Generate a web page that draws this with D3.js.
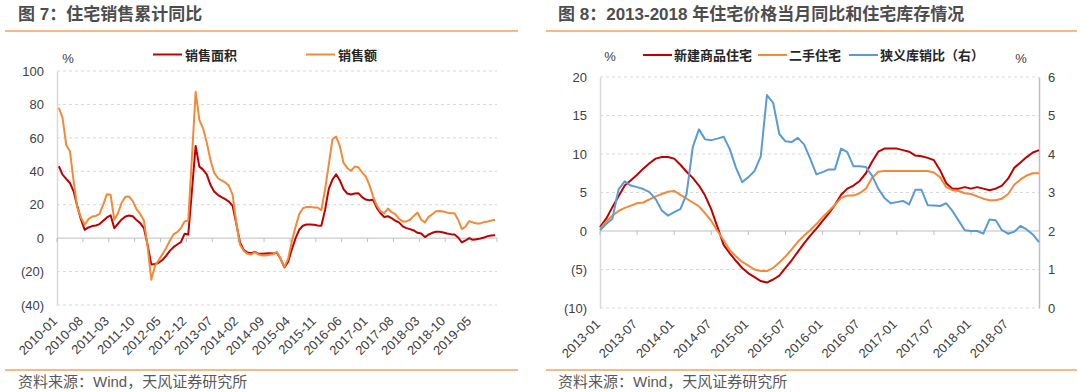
<!DOCTYPE html>
<html>
<head>
<meta charset="utf-8">
<script src="https://cdn.jsdelivr.net/npm/d3@7"></script>
<style>
  body { margin: 0; background: #fff; }
  svg { display: block; font-family: "Liberation Sans", Arial, sans-serif; }
  .cn { font-family: "Liberation Sans", "Noto Sans CJK SC", sans-serif; }
</style>
</head>
<body>
<svg id="chart" width="1080" height="392"></svg>
<script>
// ---- data ----

// 图7: 住宅销售累计同比, monthly 2010-01 .. 2019-11, %
var salesArea = [43, 38, 35.5, 33, 28, 19, 11, 5, 6.4, 7.2,
    7.6, 8.4, 10.4, 12.4, 13.7, 6, 8.6, 11.2, 12.9, 13.5,
    13.1, 10.8, 9, 6, -4, -15.7, -15.5, -14.7, -13.1, -10.6,
    -7.6, -5.4, -3.8, -2.4, 2.6, 2.2, 28.5, 55.2, 42.8, 41,
    38.2, 31.9, 27.9, 25.9, 24.5, 23.3, 21.9, 19.3, 8.4, -2.6,
    -7, -8.6, -9, -8.2, -9.4, -9.4, -9.2, -9, -9.2, -8.8,
    -12.5, -17.5, -14.3, -6.8, -0.2, 5, 7.4, 8.2, 8.2, 8,
    7.6, 7.4, 16.9, 29.5, 35, 38.2, 34.5, 29.3, 26.7, 26.1,
    26.7, 26.9, 24.5, 23.1, 22.7, 22.9, 18.1, 14.9, 12.7, 13.1,
    12, 10.4, 9.4, 7, 6, 5.4, 4.6, 3.2, 2.8, 0.6,
    2.2, 3.2, 3.8, 3.8, 3.4, 2.8, 2.4, 2.2, 0.4, -2.6,
    -1.4, 0, -1, -0.6, -0.2, 0.4, 1.2, 1.6, 1.8];
var salesAmount = [78, 72, 55.6, 52, 34, 18.3, 12.2, 8, 11.4, 12.9,
    13.3, 14.5, 20.1, 26.3, 25.9, 11, 14.9, 21.3, 24.7, 24.9,
    22.1, 17.3, 14.5, 10.6, -5, -24.9, -16.5, -13.3, -9.6, -6,
    -1.6, 2.2, 3.6, 6, 10, 10.6, 48.8, 87.6, 70.7, 65.7,
    57.2, 46.8, 39.2, 36, 34.5, 33.3, 31.3, 25.9, 9, -4,
    -7.6, -9.4, -9.8, -8.4, -9.8, -10.4, -10.4, -10, -9.6, -8.2,
    -12.5, -17.1, -12.4, -2, 6.6, 14.3, 17.9, 18.7, 18.7, 18.3,
    18.3, 16.7, 29.1, 44, 59.2, 60.8, 55, 45, 42, 40.2,
    42.8, 42.4, 39.4, 36.9, 31.7, 24.9, 19.5, 16.1, 14.9, 17.7,
    15.5, 14.3, 11.6, 10, 10, 11, 13.3, 15.3, 11, 9.4,
    12.7, 14.3, 16.1, 16.3, 15.9, 15.3, 14.9, 14.9, 11, 5.4,
    7, 10.2, 9.4, 8.8, 8.8, 9.6, 10, 10.6, 11];

// 图8: monthly 2013-01 .. 2018-12
var newHouse = [0.5, 1.6, 3.1, 4.5, 5.9, 6.6, 7.3, 8.1, 8.8, 9.4,
    9.6, 9.6, 9.4, 8.6, 7.7, 6.9, 5.9, 4.6, 2.8, 0.5,
    -1.8, -2.9, -3.9, -4.8, -5.5, -6, -6.5, -6.7, -6.3, -5.8,
    -4.8, -3.8, -2.7, -1.6, -0.6, 0.3, 1.3, 2.3, 3.4, 4.7,
    5.5, 5.9, 6.5, 7.5, 9, 10.3, 10.7, 10.7, 10.7, 10.5,
    10.3, 9.8, 9.7, 9.5, 9.2, 7.9, 6.2, 5.5, 5.5, 5.7,
    5.5, 5.7, 5.5, 5.3, 5.5, 5.9, 6.8, 8.2, 8.9, 9.6,
    10.2, 10.5];
var secondHand = [0.3, 1.2, 2, 2.6, 3, 3.3, 3.6, 3.7, 4.1, 4.5,
    4.8, 5.1, 5.2, 4.7, 4.2, 3.7, 3.2, 2.3, 1.3, 0,
    -1.2, -2.5, -3.3, -4, -4.5, -5, -5.2, -5.2, -4.8, -4.1,
    -3.3, -2.4, -1.4, -0.6, 0.1, 0.9, 1.8, 2.6, 3.4, 4.3,
    4.6, 4.6, 4.9, 5.5, 6.9, 7.7, 7.8, 7.8, 7.8, 7.8,
    7.8, 7.8, 7.8, 7.8, 7.6, 7, 5.7, 5.3, 5.2, 4.9,
    4.8, 4.5, 4.2, 4, 4, 4.2, 4.8, 6, 6.7, 7.2,
    7.5, 7.5];
// 狭义库销比, right axis
var invRatio = [2.02, 2.18, 2.32, 3.08, 3.29, 3.18, 3.14, 3.09, 3.01, 2.83,
    2.53, 2.4, 2.49, 2.57, 2.96, 4.18, 4.64, 4.38, 4.36, 4.4,
    4.45, 4.12, 3.64, 3.27, 3.4, 3.56, 3.94, 5.53, 5.33, 4.52,
    4.33, 4.31, 4.42, 4.25, 3.88, 3.47, 3.53, 3.6, 3.6, 4.14,
    4.05, 3.68, 3.68, 3.66, 3.44, 3.1, 2.86, 2.72, 2.75, 2.78,
    2.69, 3.07, 3.07, 2.67, 2.66, 2.65, 2.72, 2.52, 2.27, 2.02,
    2.0, 2.0, 1.93, 2.3, 2.28, 2.02, 1.93, 1.98, 2.13, 2.04,
    1.91, 1.71];

var fmtMonth = d3.timeFormat("%Y-%m");
var months1 = d3.timeMonth.range(new Date(2010, 0, 1), new Date(2019, 11, 1)).map(fmtMonth);
var months2 = d3.timeMonth.range(new Date(2013, 0, 1), new Date(2019, 0, 1)).map(fmtMonth);

var xLabels1 = ["2010-01", "2010-08", "2011-03", "2011-10", "2012-05", "2012-12", "2013-07",
    "2014-02", "2014-09", "2015-04", "2015-11", "2016-06", "2017-01", "2017-08",
    "2018-03", "2018-10", "2019-05"];
var xLabels2 = ["2013-01", "2013-07", "2014-01", "2014-07", "2015-01", "2015-07",
    "2016-01", "2016-07", "2017-01", "2017-07", "2018-01", "2018-07"];
var yTicks1 = [100, 80, 60, 40, 20, 0, -20, -40];
var yTicks2 = [20, 15, 10, 5, 0, -5, -10];
var yTicks2r = [6, 5, 4, 3, 2, 1, 0];

var RED = "#c00000", ORANGE = "#f28a3a", BLUE = "#5b9bd5";
var GRID = "#d9d9d9", AXIS = "#bfbfbf", TXT = "#404040", RULE = "#f5a35c";

function fmtNeg(v) { return v < 0 ? "(" + (-v) + ")" : String(v); }

var svg = d3.select("#chart");

// ---- frames: titles, rules, source ----
[{ x: 18, l: 5, r: 518, t: "图 7：住宅销售累计同比" },
 { x: 558, l: 546, r: 1077, t: "图 8：2013-2018 年住宅价格当月同比和住宅库存情况" }].forEach(function (p) {
    svg.append("text").attr("class", "cn")
        .attr("x", p.x).attr("y", 20)
        .style("font-size", "17px").style("font-weight", "700").style("fill", "#4d4d4d")
        .text(p.t);
    svg.append("line").attr("x1", p.l).attr("x2", p.r).attr("y1", 31).attr("y2", 31)
        .attr("stroke", RULE).attr("stroke-width", 1.5);
    svg.append("line").attr("x1", p.l).attr("x2", p.r).attr("y1", 370).attr("y2", 370)
        .attr("stroke", RULE).attr("stroke-width", 1.5);
    svg.append("text").attr("class", "cn")
        .attr("x", p.x).attr("y", 387)
        .style("font-size", "15px").style("fill", "#595959")
        .text("资料来源：Wind，天风证券研究所");
});

// ---- chart 1 ----
var x1 = d3.scaleBand().domain(months1).range([57, 497]);
var y1 = d3.scaleLinear().domain([-40, 100]).range([305, 71]);
var c1 = svg.append("g");

// dashed gridlines
c1.selectAll(".grid1").data(yTicks1.filter(function (d) { return d !== 0; }))
    .enter().append("line")
    .attr("x1", 57).attr("x2", 497)
    .attr("y1", function (d) { return y1(d); }).attr("y2", function (d) { return y1(d); })
    .attr("stroke", GRID).attr("stroke-dasharray", "3,3");

// y axis
var ax1 = c1.append("g").attr("transform", "translate(57,0)")
    .call(d3.axisLeft(y1).tickValues(yTicks1).tickFormat(fmtNeg).tickSize(0).tickPadding(13));
ax1.select(".domain").attr("stroke", GRID).attr("stroke-width", 1.5);
ax1.selectAll("text").style("font-size", "13px").style("fill", TXT)
    .style("font-family", '"Liberation Sans", Arial, sans-serif');

// zero line with ticks at category boundaries
c1.append("line").attr("x1", 57).attr("x2", 497).attr("y1", y1(0)).attr("y2", y1(0))
    .attr("stroke", AXIS).attr("stroke-width", 1);
var tickX1 = xLabels1.map(function (m) { return x1(m); }).concat([497]);
c1.selectAll(".tick1").data(tickX1).enter().append("line")
    .attr("x1", function (d) { return d; }).attr("x2", function (d) { return d; })
    .attr("y1", y1(0)).attr("y2", y1(0) + 4)
    .attr("stroke", AXIS);

c1.selectAll(".xl1").data(xLabels1).enter().append("text")
    .attr("transform", function (d) { return "translate(" + (x1(d) + 1) + ",322) rotate(-45)"; })
    .attr("text-anchor", "end")
    .style("font-size", "13px").style("fill", TXT)
    .text(function (d) { return d; });

var line1 = d3.line()
    .x(function (d, i) { return x1(months1[i]) + x1.bandwidth() / 2; })
    .y(function (d) { return y1(d); });

c1.append("path").datum(salesArea).attr("d", line1)
    .attr("fill", "none").attr("stroke", RED).attr("stroke-width", 2).attr("stroke-linejoin", "round");
c1.append("path").datum(salesAmount).attr("d", line1)
    .attr("fill", "none").attr("stroke", ORANGE).attr("stroke-width", 2).attr("stroke-linejoin", "round");

// unit + legend
c1.append("text").attr("x", 68).attr("y", 63).attr("text-anchor", "middle")
    .style("font-size", "13px").style("fill", TXT).text("%");
[{ x: 153, c: RED, t: "销售面积" }, { x: 306, c: ORANGE, t: "销售额" }].forEach(function (l) {
    c1.append("line").attr("x1", l.x).attr("x2", l.x + 29).attr("y1", 54.5).attr("y2", 54.5)
        .attr("stroke", l.c).attr("stroke-width", 2);
    c1.append("text").attr("class", "cn").attr("x", l.x + 32).attr("y", 59.5)
        .style("font-size", "13px").style("font-weight", "700").style("fill", "#262626")
        .text(l.t);
});

// ---- chart 2 ----
var x2 = d3.scalePoint().domain(months2).range([600, 1039]);
var y2 = d3.scaleLinear().domain([-10, 20]).range([308, 77]);
var y2r = d3.scaleLinear().domain([0, 6]).range([308, 77]);
var c2 = svg.append("g");

c2.selectAll(".grid2").data(yTicks2.filter(function (d) { return d !== 0; }))
    .enter().append("line")
    .attr("x1", 600).attr("x2", 1039)
    .attr("y1", function (d) { return y2(d); }).attr("y2", function (d) { return y2(d); })
    .attr("stroke", GRID).attr("stroke-dasharray", "3,3");

var ax2 = c2.append("g").attr("transform", "translate(600,0)")
    .call(d3.axisLeft(y2).tickValues(yTicks2).tickFormat(fmtNeg).tickSize(0).tickPadding(13));
ax2.select(".domain").attr("stroke", GRID).attr("stroke-width", 1.5);
ax2.selectAll("text").style("font-size", "13px").style("fill", TXT)
    .style("font-family", '"Liberation Sans", Arial, sans-serif');

var ax2r = c2.append("g").attr("transform", "translate(1039,0)")
    .call(d3.axisRight(y2r).tickValues(yTicks2r).tickFormat(d3.format("d")).tickSize(0).tickPadding(9));
ax2r.select(".domain").attr("stroke", AXIS).attr("stroke-width", 1.5);
ax2r.selectAll("text").style("font-size", "13px").style("fill", TXT)
    .style("font-family", '"Liberation Sans", Arial, sans-serif');

c2.append("line").attr("x1", 600).attr("x2", 1039).attr("y1", y2(0)).attr("y2", y2(0))
    .attr("stroke", AXIS).attr("stroke-width", 1);
c2.selectAll(".tick2").data(xLabels2).enter().append("line")
    .attr("x1", function (d) { return x2(d); }).attr("x2", function (d) { return x2(d); })
    .attr("y1", y2(0)).attr("y2", y2(0) + 4)
    .attr("stroke", AXIS);

c2.selectAll(".xl2").data(xLabels2).enter().append("text")
    .attr("transform", function (d) { return "translate(" + (x2(d) + 1) + ",325) rotate(-45)"; })
    .attr("text-anchor", "end")
    .style("font-size", "13px").style("fill", TXT)
    .text(function (d) { return d; });

var line2 = d3.line()
    .x(function (d, i) { return x2(months2[i]); })
    .y(function (d) { return y2(d); });
var line2r = d3.line()
    .x(function (d, i) { return x2(months2[i]); })
    .y(function (d) { return y2r(d); });

c2.append("path").datum(newHouse).attr("d", line2)
    .attr("fill", "none").attr("stroke", RED).attr("stroke-width", 2).attr("stroke-linejoin", "round");
c2.append("path").datum(secondHand).attr("d", line2)
    .attr("fill", "none").attr("stroke", ORANGE).attr("stroke-width", 2).attr("stroke-linejoin", "round");
c2.append("path").datum(invRatio).attr("d", line2r)
    .attr("fill", "none").attr("stroke", BLUE).attr("stroke-width", 2).attr("stroke-linejoin", "round");

c2.append("text").attr("x", 610).attr("y", 61).attr("text-anchor", "middle")
    .style("font-size", "13px").style("fill", TXT).text("%");
c2.append("text").attr("x", 1021).attr("y", 63).attr("text-anchor", "middle")
    .style("font-size", "13px").style("fill", TXT).text("%");
[{ x: 643, c: RED, t: "新建商品住宅" }, { x: 758, c: ORANGE, t: "二手住宅" },
 { x: 849, c: BLUE, t: "狭义库销比（右）" }].forEach(function (l) {
    c2.append("line").attr("x1", l.x).attr("x2", l.x + 29).attr("y1", 55).attr("y2", 55)
        .attr("stroke", l.c).attr("stroke-width", 2);
    c2.append("text").attr("class", "cn").attr("x", l.x + 31).attr("y", 60)
        .style("font-size", "13px").style("font-weight", "700").style("fill", "#262626")
        .text(l.t);
});
</script>
</body>
</html>
